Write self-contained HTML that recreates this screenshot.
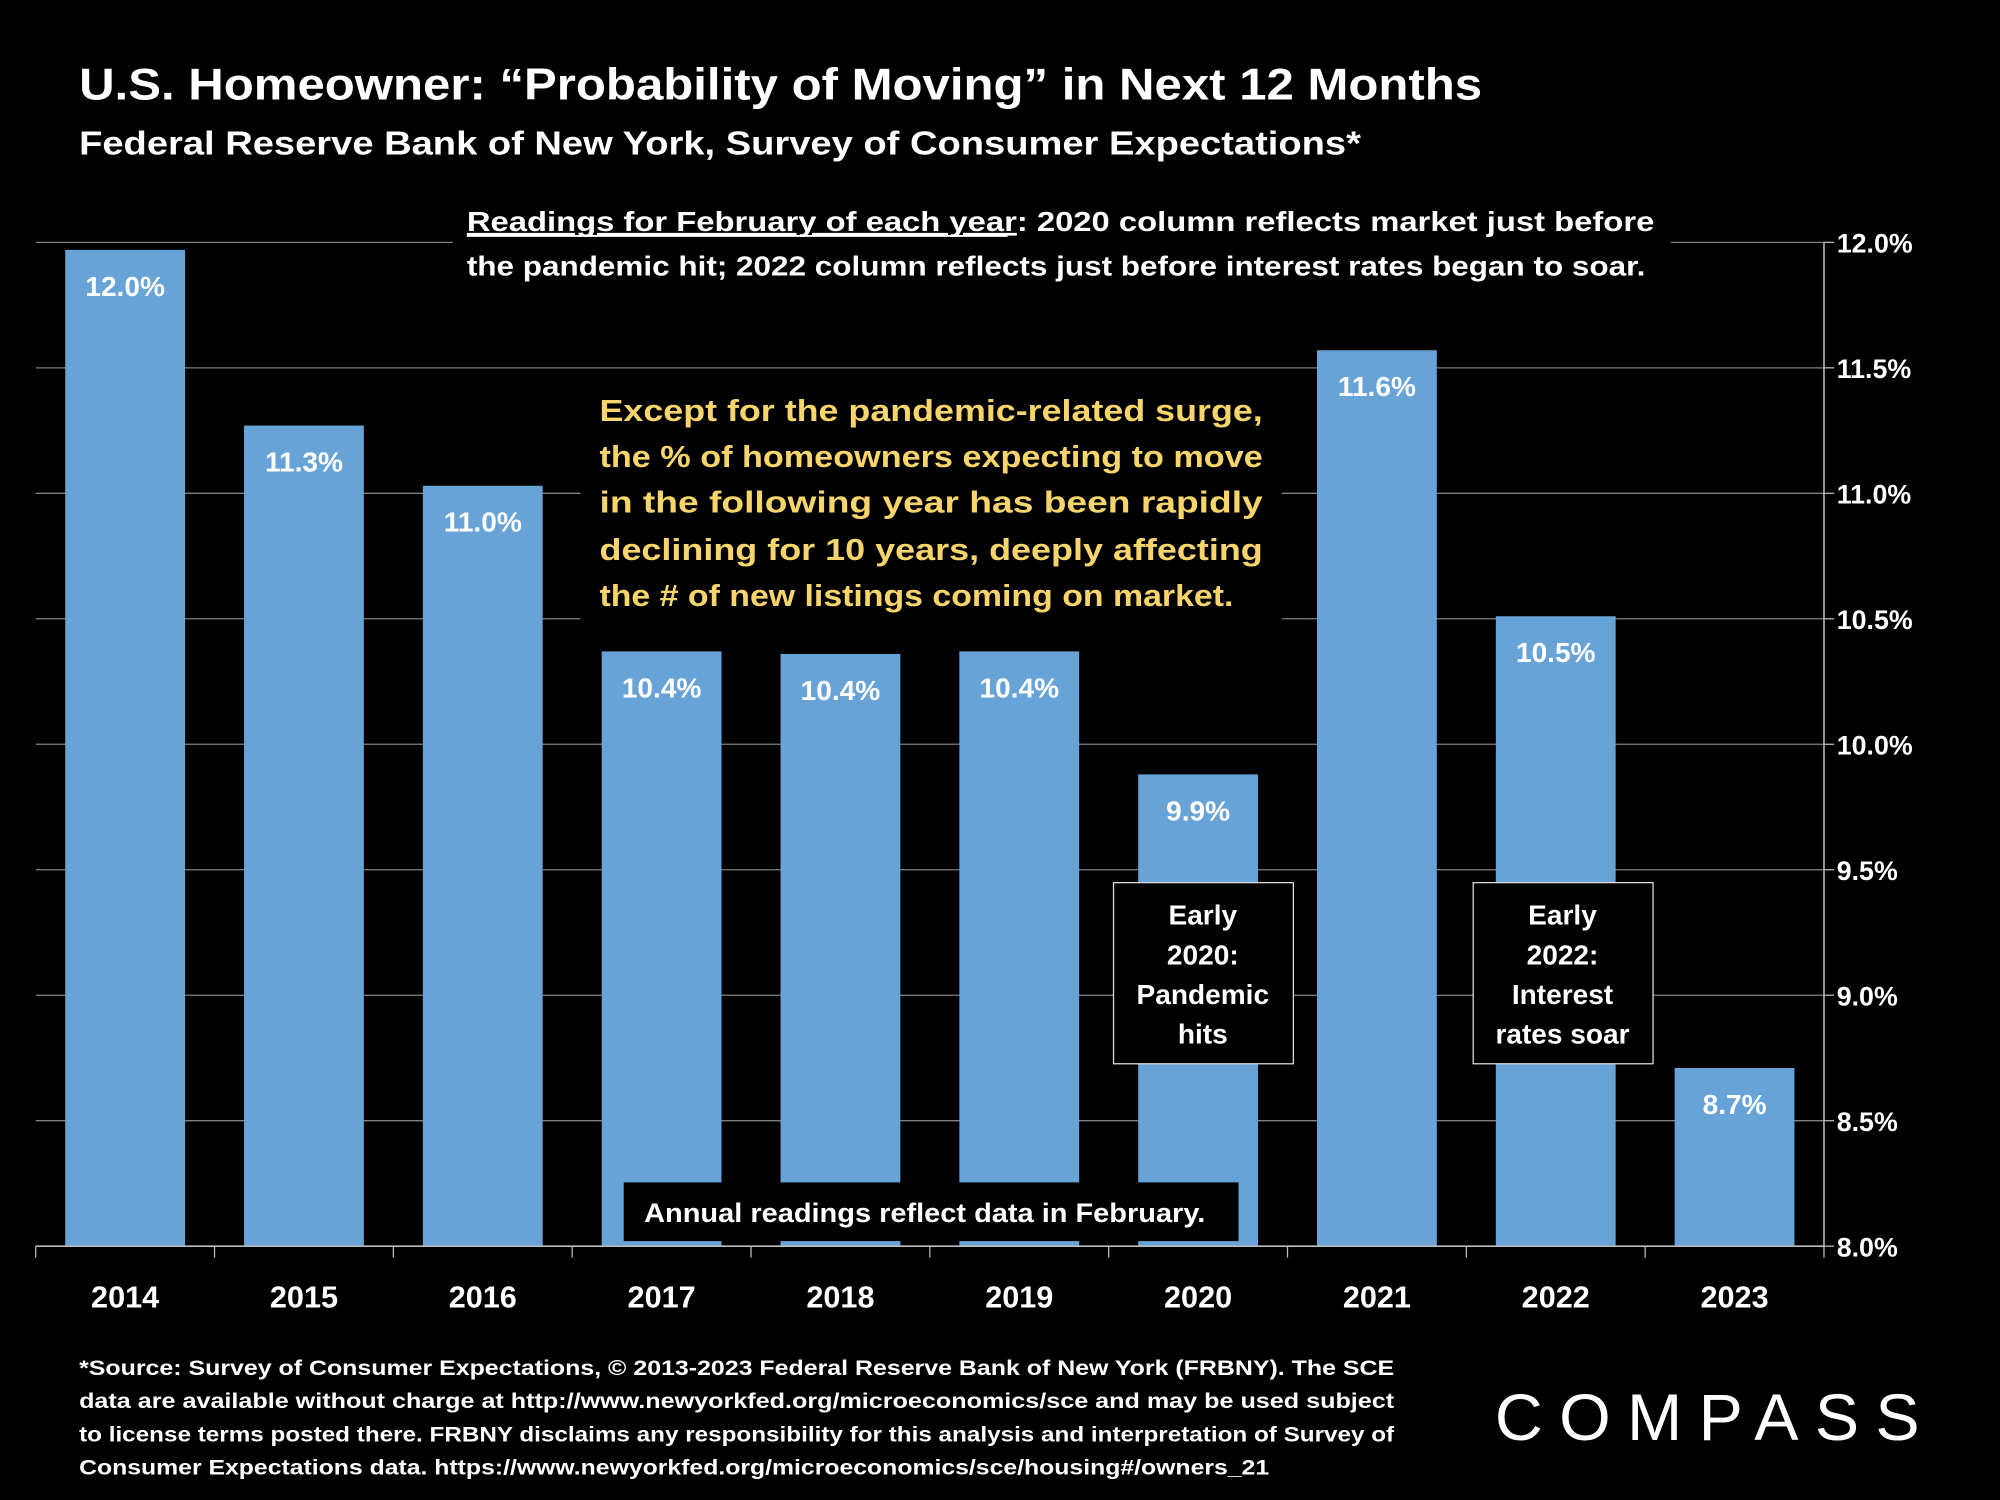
<!DOCTYPE html>
<html><head><meta charset="utf-8"><style>
html,body{margin:0;padding:0;background:#000;width:2000px;height:1500px;overflow:hidden}
svg{display:block}
text{font-family:"Liberation Sans",sans-serif;font-weight:bold;fill:#fff}
</style></head><body>
<svg id="chart" width="2000" height="1500" viewBox="0 0 1568 1176" xmlns="http://www.w3.org/2000/svg">
<rect width="1568" height="1176" fill="#000"/>
<text x="62" y="78" font-size="35" textLength="1100" lengthAdjust="spacingAndGlyphs">U.S. Homeowner: “Probability of Moving” in Next 12 Months</text>
<text x="62" y="121" font-size="26" textLength="1005" lengthAdjust="spacingAndGlyphs">Federal Reserve Bank of New York, Survey of Consumer Expectations*</text>
<g id="grid"></g>
<g id="bars"></g>
<g id="axes"></g>
<g>
<rect x="355" y="152" width="955" height="72" fill="#000"/>
<text x="366" y="181" font-size="21.5" textLength="931" lengthAdjust="spacingAndGlyphs"><tspan text-decoration="underline">Readings for February of each year</tspan>: 2020 column reflects market just before</text>
<line x1="366" y1="185" x2="790" y2="185" stroke="#fff" stroke-width="1.5"/>
<text x="366" y="216" font-size="21.5" textLength="924" lengthAdjust="spacingAndGlyphs">the pandemic hit; 2022 column reflects just before interest rates began to soar.</text>
</g>
<g>
<rect x="455" y="298" width="550" height="188" fill="#000"/>
<text x="470" y="330" font-size="24" fill="#f7d56b" style="fill:#f7d56b" textLength="520" lengthAdjust="spacingAndGlyphs">Except for the pandemic-related surge,</text>
<text x="470" y="366" font-size="24" style="fill:#f7d56b" textLength="520" lengthAdjust="spacingAndGlyphs">the % of homeowners expecting to move</text>
<text x="470" y="402" font-size="24" style="fill:#f7d56b" textLength="520" lengthAdjust="spacingAndGlyphs">in the following year has been rapidly</text>
<text x="470" y="439" font-size="24" style="fill:#f7d56b" textLength="520" lengthAdjust="spacingAndGlyphs">declining for 10 years, deeply affecting</text>
<text x="470" y="475" font-size="24" style="fill:#f7d56b" textLength="497" lengthAdjust="spacingAndGlyphs">the # of new listings coming on market.</text>
</g>
<g>
<rect x="873" y="692" width="141" height="142" fill="#000" stroke="#ddd" stroke-width="1"/>
<text x="943" y="725" font-size="22" text-anchor="middle">Early</text>
<text x="943" y="756" font-size="22" text-anchor="middle">2020:</text>
<text x="943" y="787" font-size="22" text-anchor="middle">Pandemic</text>
<text x="943" y="818" font-size="22" text-anchor="middle">hits</text>
</g>
<g>
<rect x="1155" y="692" width="141" height="142" fill="#000" stroke="#ddd" stroke-width="1"/>
<text x="1225" y="725" font-size="22" text-anchor="middle">Early</text>
<text x="1225" y="756" font-size="22" text-anchor="middle">2022:</text>
<text x="1225" y="787" font-size="22" text-anchor="middle">Interest</text>
<text x="1225" y="818" font-size="22" text-anchor="middle">rates soar</text>
</g>
<g>
<rect x="489" y="927" width="482" height="46" fill="#000"/>
<text x="505" y="958" font-size="21" textLength="440" lengthAdjust="spacingAndGlyphs">Annual readings reflect data in February.</text>
</g>
<g font-size="17">
<text x="62" y="1078" font-size="17" textLength="1031" lengthAdjust="spacingAndGlyphs">*Source:  Survey of Consumer Expectations, © 2013-2023 Federal Reserve Bank of New York (FRBNY).  The SCE</text>
<text x="62" y="1104" font-size="17" textLength="1031" lengthAdjust="spacingAndGlyphs">data are available without charge at http://www.newyorkfed.org/microeconomics/sce and may be used subject</text>
<text x="62" y="1130" font-size="17" textLength="1031" lengthAdjust="spacingAndGlyphs">to license terms posted there. FRBNY disclaims any responsibility for this analysis and interpretation of Survey of</text>
<text x="62" y="1156" font-size="17" textLength="933" lengthAdjust="spacingAndGlyphs">Consumer Expectations data. https://www.newyorkfed.org/microeconomics/sce/housing#/owners_21</text>
</g>
<g>
<text x="1172" y="1129" font-size="52" style="font-weight:normal" textLength="333" lengthAdjust="spacing">COMPASS</text>
</g>
</svg>
<script>
const categories=["2014","2015","2016","2017","2018","2019","2020","2021","2022","2023"];
const values=[11.97,11.27,11.03,10.37,10.36,10.37,9.88,11.57,10.51,8.71];
const valueLabels=["12.0%","11.3%","11.0%","10.4%","10.4%","10.4%","9.9%","11.6%","10.5%","8.7%"];
const yTicks=[8.0,8.5,9.0,9.5,10.0,10.5,11.0,11.5,12.0];
const yTickLabels=["8.0%","8.5%","9.0%","9.5%","10.0%","10.5%","11.0%","11.5%","12.0%"];
const NS="http://www.w3.org/2000/svg";
const L=28,R=1430,B=977,T=190,yMin=8,yMax=12;
function y(v){return B-(v-yMin)/(yMax-yMin)*(B-T);}
const band=(R-L)/categories.length;
function x(i){return L+band*i;}
function mk(tag,attrs,parent){const e=document.createElementNS(NS,tag);for(const k in attrs)e.setAttribute(k,attrs[k]);parent.appendChild(e);return e;}
const grid=document.getElementById('grid'),bars=document.getElementById('bars'),axes=document.getElementById('axes');
yTicks.forEach((t,i)=>{
  if(i>0){const g=mk('line',{x1:L,x2:R,y1:y(t),y2:y(t),stroke:'#808080','stroke-width':1},grid);
  
  }
  const tk=mk('line',{x1:R,x2:R+8,y1:y(t),y2:y(t),stroke:'#bbb','stroke-width':1},axes);
  
  
  const lb=mk('text',{x:R+10,y:y(t)+8,'font-size':21},axes);lb.textContent=yTickLabels[i];
  
  
});
categories.forEach((c,i)=>{
  const bw=band*0.67,bx=x(i)+(band-bw)/2;
  const r=mk('rect',{x:bx,y:y(values[i]),width:bw,height:B-y(values[i]),fill:'#68a3d8'},bars);
  
  
  const vl=mk('text',{x:x(i)+band/2,y:y(values[i])+36,'font-size':22,'text-anchor':'middle'},bars);vl.textContent=valueLabels[i];
  
  
  const xl=mk('text',{x:x(i)+band/2,y:B+48,'font-size':24,'text-anchor':'middle'},axes);xl.textContent=c;
  
  
});
for(let i=0;i<=categories.length;i++){
  const t=mk('line',{x1:x(i),x2:x(i),y1:B,y2:B+9,stroke:'#bbb','stroke-width':1},axes);
  
  
}
const xa=mk('line',{x1:L,x2:R,y1:B,y2:B,stroke:'#bbb','stroke-width':1.2},axes);


const ya=mk('line',{x1:R,x2:R,y1:T,y2:B,stroke:'#bbb','stroke-width':1.2},axes);


</script>
</body></html>
